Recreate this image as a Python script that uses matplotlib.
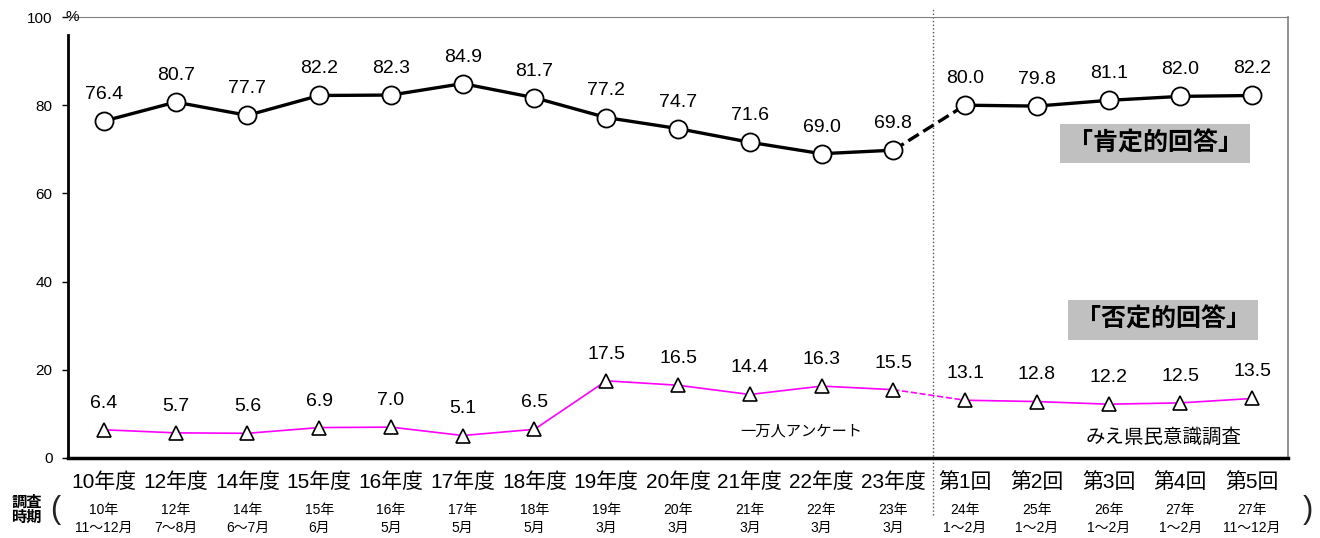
import matplotlib
matplotlib.use('Agg')
import matplotlib.pyplot as plt
import numpy as np

plt.rcParams['font.family'] = ['Liberation Sans', 'Noto Sans CJK JP', 'DejaVu Sans']

categories = ['10年度', '12年度', '14年度', '15年度', '16年度', '17年度', '18年度',
              '19年度', '20年度', '21年度', '22年度', '23年度',
              '第1回', '第2回', '第3回', '第4回', '第5回']
period_year = ['10年', '12年', '14年', '15年', '16年', '17年', '18年', '19年', '20年',
               '21年', '22年', '23年', '24年', '25年', '26年', '27年', '27年']
period_month = ['11～12月', '7～8月', '6～7月', '6月', '5月', '5月', '5月', '3月', '3月',
                '3月', '3月', '3月', '1～2月', '1～2月', '1～2月', '1～2月', '11～12月']
positive = [76.4, 80.7, 77.7, 82.2, 82.3, 84.9, 81.7, 77.2, 74.7, 71.6, 69.0, 69.8,
            80.0, 79.8, 81.1, 82.0, 82.2]
negative = [6.4, 5.7, 5.6, 6.9, 7.0, 5.1, 6.5, 17.5, 16.5, 14.4, 16.3, 15.5,
            13.1, 12.8, 12.2, 12.5, 13.5]
split = 12  # first index of みえ県民意識調査

fig = plt.figure(figsize=(13.2, 5.38), dpi=100)
ax = fig.add_axes([0.0515, 0.1487, 0.9243, 0.8197])
x = np.arange(len(categories))

# positive answers
ax.plot(x[:split], positive[:split], color='black', lw=2.4, zorder=2)
ax.plot(x[split - 1:split + 1], positive[split - 1:split + 1], color='black', lw=2.4, ls='--', zorder=2)
ax.plot(x[split:], positive[split:], color='black', lw=2.4, zorder=2)
ax.plot(x, positive, ls='none', marker='o', ms=13, mfc='white', mec='black', mew=1.3, zorder=3)

# negative answers
ax.plot(x[:split], negative[:split], color='#ff00ff', lw=1.2, zorder=2)
ax.plot(x[split - 1:split + 1], negative[split - 1:split + 1], color='#ff00ff', lw=1.2, ls='--', zorder=2)
ax.plot(x[split:], negative[split:], color='#ff00ff', lw=1.2, zorder=2)
ax.plot(x, negative, ls='none', marker='^', ms=10, mfc='white', mec='black', mew=1.2, zorder=3)

for xi, v in zip(x, positive):
    ax.annotate(f'{v:.1f}', (xi, v), xytext=(0, 13), textcoords='offset points',
                ha='center', va='bottom', fontsize=14)
for xi, v in zip(x, negative):
    ax.annotate(f'{v:.1f}', (xi, v), xytext=(0, 13), textcoords='offset points',
                ha='center', va='bottom', fontsize=14)

ax.set_xlim(-0.5, len(categories) - 0.5)
ax.set_ylim(0, 100)
ax.set_yticks([0, 20, 40, 60, 80, 100])
ax.set_yticklabels(['0', '20', '40', '60', '80', '100'], fontsize=11)
ax.tick_params(axis='y', length=4, width=1, pad=7)
ax.set_xticks([])

ax.spines['left'].set_linewidth(2)
ax.spines['left'].set_bounds(0, 96)
ax.spines['bottom'].set_linewidth(2.5)
ax.spines['top'].set_color('#808080')
ax.spines['right'].set_color('#808080')
ax.spines['right'].set_linewidth(1.2)

ax.text(-0.44, 100, '%', ha='center', va='center', fontsize=11)

# divider between surveys
ax.axvline(split - 0.45, ymin=-0.13, ymax=1.02, color='#555555', lw=1, ls=':', clip_on=False)

trans = ax.get_xaxis_transform()
for xi, c, yr, mo in zip(x, categories, period_year, period_month):
    ax.text(xi, -0.055, c, transform=trans, ha='center', va='center', fontsize=15)
    ax.text(xi, -0.118, yr, transform=trans, ha='center', va='center', fontsize=10)
    ax.text(xi, -0.158, mo, transform=trans, ha='center', va='center', fontsize=10)

fig.text(0.020, 0.052, '調査\n時期', ha='center', va='center', fontsize=11,
         fontweight='bold', linespacing=1.1)
fig.text(0.042, 0.052, '(', ha='center', va='center', fontsize=22, color='#222222')
fig.text(0.991, 0.052, ')', ha='center', va='center', fontsize=22, color='#222222')

box = dict(boxstyle='square,pad=0.3', fc='#c0c0c0', ec='none')
ax.text(14.65, 71.4, '「肯定的回答」', ha='center', va='center', fontsize=18,
        fontweight='bold', bbox=box)
ax.text(14.76, 31.3, '「否定的回答」', ha='center', va='center', fontsize=18,
        fontweight='bold', bbox=box)
ax.text(9.72, 6.0, '一万人アンケート', ha='center', va='center', fontsize=11)
ax.text(14.76, 4.7, 'みえ県民意識調査', ha='center', va='center', fontsize=14)

fig.savefig('out.png', dpi=100)
